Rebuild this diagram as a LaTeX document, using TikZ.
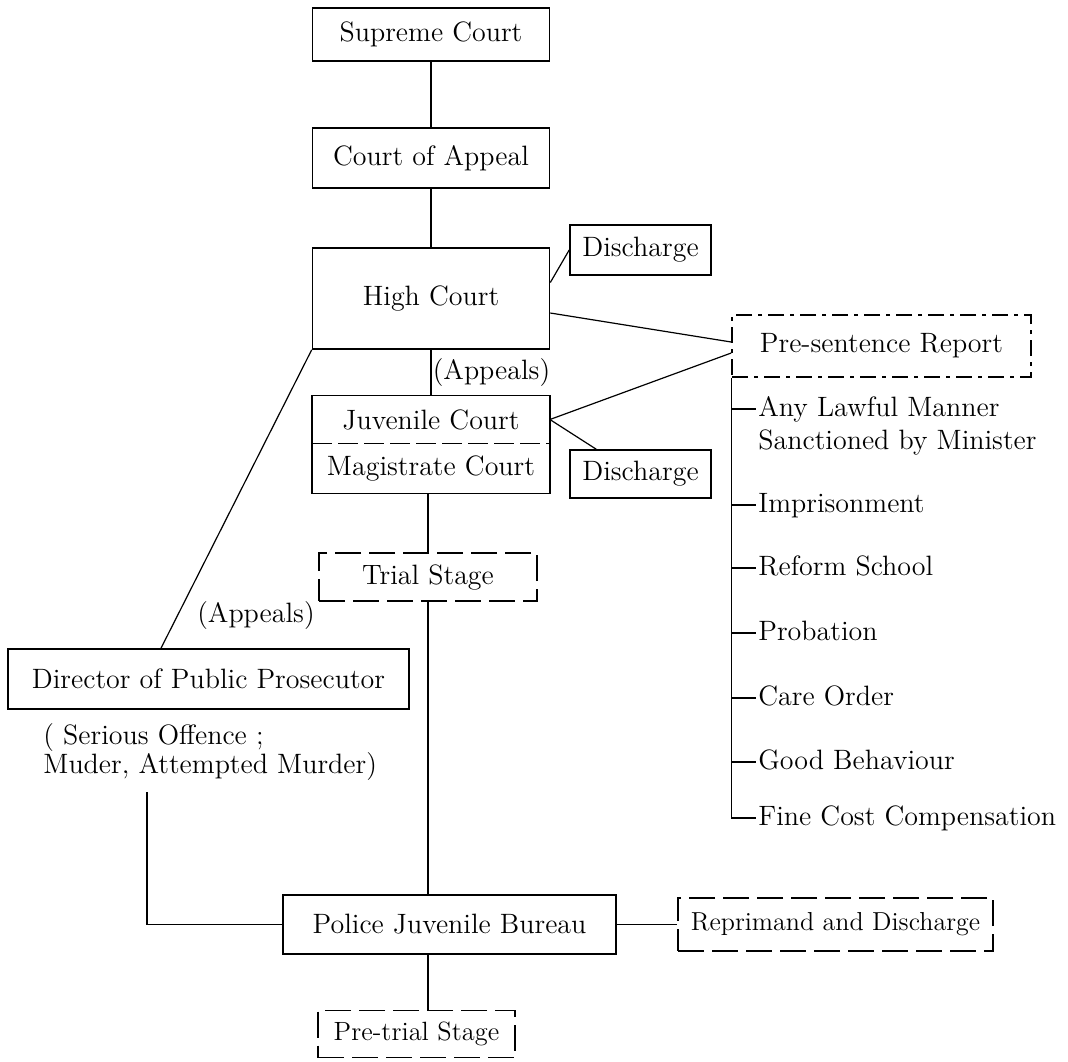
\documentclass[tikz,border=0pt]{standalone}
\usetikzlibrary{calc}

\tikzset{
  box/.style={draw, line width=0.8pt, inner sep=2pt, align=center},
  dashbox/.style={box, dash pattern=on 13pt off 4pt},
  dotbox/.style={box, dash pattern=on 8pt off 3pt on 2pt off 3pt},
  link/.style={line width=0.6pt},
  item/.style={anchor=west, inner sep=1pt, text height=9.8pt, text depth=2.8pt},
}

\begin{document}
\begin{tikzpicture}[x=0.5pt,y=-0.5pt,font=\fontsize{14}{14.5}\selectfont]
		\useasboundingbox (0,0) rectangle (1068,1061);

		% courts
		\node [box, minimum width=118.5pt, minimum height=26.5pt] (sup) at (431,34.5) {Supreme Court};
		\node [box, minimum width=118.5pt, minimum height=30pt] (coa) at (431,158) {Court of Appeal};
		\node [box, minimum width=118.5pt, minimum height=50.5pt] (high) at (431,298.5) {High Court};
		\node [box, minimum width=70.5pt, minimum height=25pt] (dis1) at (640.5,250) {Discharge};
		\node [dotbox, minimum width=149.5pt, minimum height=31pt] (psr) at (881.5,346) {Pre-sentence Report};
		\node [minimum width=118.5pt, minimum height=23.5pt, inner sep=0pt] (juv) at (431,419.5) {Juvenile Court};
		\node [minimum width=118.5pt, minimum height=25pt, inner sep=0pt] (mag) at (431,468) {Magistrate Court};
		\draw [line width=0.8pt] (juv.north west) rectangle (mag.south east);
		\draw [line width=0.8pt, dash pattern=on 10pt off 3pt] (juv.south west) -- (juv.south east);
		\node [box, minimum width=70.5pt, minimum height=24pt] (dis2) at (640.5,474) {Discharge};
		\node [dashbox, minimum width=109pt, minimum height=24pt] (trial) at (428,577) {Trial Stage};
		\node (app1) at (491.5,373) {(Appeals)};
		\node (app2) at (256,615) {(Appeals)};

		% pre-trial side
		\node [box, minimum width=200.5pt, minimum height=30pt] (dpp) at (208.5,679) {Director of Public Prosecutor};
		\node [anchor=north west, align=left, inner sep=0pt] (why) at (43,723) {( Serious Offence ;\\Muder, Attempted Murder)};
		\coordinate (dpptail) at (147,792);
		\node [box, minimum width=166.5pt, minimum height=29.5pt] (pol) at (449.5,924.5) {Police Juvenile Bureau};
		\node [dashbox, minimum width=157.5pt, minimum height=26.5pt, inner sep=0pt, font=\fontsize{13}{14.5}\selectfont] (rep) at (835.5,924.5) {Reprimand and Discharge};
		\node [dashbox, minimum width=98.5pt, minimum height=23.5pt, inner sep=0pt, font=\fontsize{13.2}{14.5}\selectfont] (pre) at (416.5,1034) {Pre-trial Stage};

		% sentences
		\node [item] (s1) at (756,409) {Any Lawful Manner};
		\node [item] (s1b) at (756,442) {Sanctioned by Minister};
		\node [item] (s2) at (756,505) {Imprisonment};
		\node [item] (s3) at (756,568) {Reform School};
		\node [item] (s4) at (756,633) {Probation};
		\node [item] (s5) at (756,698) {Care Order};
		\node [item] (s6) at (756,762) {Good Behaviour};
		\node [item] (s7) at (756,818) {Fine Cost Compensation};

		% links
		\draw [link] (sup) -- (coa);
		\draw [link] (coa) -- (high);
		\draw [link] (high) -- (juv);
		\draw [link] ([yshift=8pt]high.east) -- (dis1.west);
		\draw [link] ([yshift=-7.25pt]high.east) -- ([yshift=2pt]psr.west);
		\draw [link] (juv.east) -- ([yshift=-3.5pt]psr.west);
		\draw [link] (juv.east) -- ([xshift=13.5pt]dis2.north west);
		\draw [link] (mag.south -| trial.north) -- (trial.north);
		\draw [link] (high.south west) -- ([xshift=-23.75pt]dpp.north);
		\draw [link] (trial.south) -- (trial.south |- pol.north);
		\draw [link] (dpptail) |- (pol.west);
		\draw [link] (pol.east) -- (rep.west);
		\draw [link] (trial.south |- pol.south) -- (trial.south |- pre.north);

		\draw [link] (psr.south west) |- (s7.west);
		\foreach \s in {s1,s2,s3,s4,s5,s6}
			\draw [link] (psr.south west |- \s.west) -- (\s.west);
\end{tikzpicture}
\end{document}
